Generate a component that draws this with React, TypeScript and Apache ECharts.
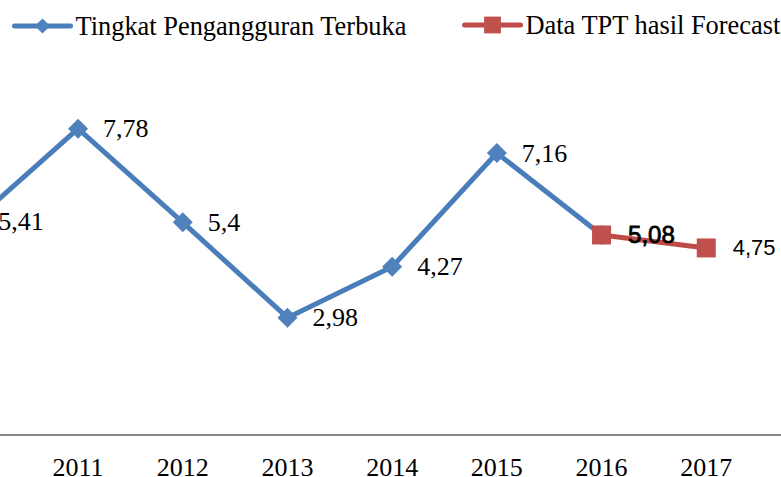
import React, { useEffect, useRef } from "react";
import * as echarts from "echarts";

const years = ["2010", "2011", "2012", "2013", "2014", "2015", "2016", "2017"];
const tptValues: (number | null)[] = [5.41, 7.78, 5.4, 2.98, 4.27, 7.16, 5.08, null];
const forecastValues: (number | null)[] = [null, null, null, null, null, null, 5.08, 4.75];
const seriesNames = ["Tingkat Pengangguran Terbuka", "Data TPT hasil Forecast"];

const SERIF = "'Liberation Serif', 'Times New Roman', serif";
const SANS = "'Liberation Sans', Arial, sans-serif";
const fmt = (p: any) => String(p.value).replace(".", ",");

export default function App() {
  const ref = useRef<HTMLDivElement>(null);
  useEffect(() => {
    if (!ref.current) return;
    const chart = echarts.init(ref.current, null, { renderer: "svg" });
    const blueData = tptValues.map((v, i) =>
      v === null ? "-" : i === 6 ? { value: v, label: { show: false } } : v
    );
    const redData = forecastValues.map((v, i) =>
      v === null
        ? "-"
        : i === 6
        ? { value: v, label: { fontSize: 24, textBorderColor: "#000", textBorderWidth: 0.8 } }
        : v
    );
    const legendText = { fontFamily: SERIF, fontSize: 26.4, color: "#000" };
    chart.setOption({
      animation: false,
      legend: [
        {
          data: [seriesNames[0]],
          left: 12,
          top: 13,
          padding: 0,
          itemWidth: 56,
          itemHeight: 19,
          itemGap: 0,
          lineStyle: { width: 5, cap: "round" },
          textStyle: legendText,
        },
        {
          data: [seriesNames[1]],
          left: 462,
          top: 12,
          padding: 0,
          itemWidth: 56,
          itemHeight: 21,
          itemGap: 0,
          lineStyle: { width: 5, cap: "round" },
          textStyle: legendText,
        },
      ],
      grid: {
        left: -79,
        right: 22.4,
        top: 80.6,
        bottom: 42,
        containLabel: false,
        outerBoundsMode: "none",
      },
      xAxis: {
        type: "category",
        data: years,
        boundaryGap: true,
        axisLine: { show: false },
        axisTick: { show: false },
        axisLabel: { fontFamily: SERIF, fontSize: 26, color: "#000", margin: 19 },
      },
      yAxis: {
        type: "value",
        min: 0,
        max: 9,
        show: false,
        splitLine: { show: false },
      },
      series: [
        {
          name: seriesNames[0],
          type: "line",
          data: blueData,
          symbol: "diamond",
          symbolSize: 20,
          lineStyle: { color: "#4A7EBB", width: 5 },
          itemStyle: { color: "#4F81BD" },
          label: {
            show: true,
            position: "right",
            distance: 15,
            fontFamily: SERIF,
            fontSize: 26,
            color: "#000",
            formatter: fmt,
          },
        },
        {
          name: seriesNames[1],
          type: "line",
          data: redData,
          symbol: "rect",
          symbolSize: 19,
          lineStyle: { color: "#BE4B48", width: 5 },
          itemStyle: { color: "#C0504D" },
          label: {
            show: true,
            position: "right",
            distance: 17,
            fontFamily: SANS,
            fontSize: 22,
            color: "#000",
            formatter: fmt,
          },
        },
      ],
    });
    const y0 = chart.convertToPixel({ yAxisIndex: 0 }, 0) as number;
    chart.setOption({
      graphic: [
        {
          type: "line",
          shape: { x1: 0, y1: y0, x2: 781, y2: y0 },
          style: { stroke: "#898989", lineWidth: 2 },
          z: 0,
        },
      ],
    });
    return () => chart.dispose();
  }, []);
  return (
    <div
      ref={ref}
      style={{ position: "fixed", left: 0, top: 0, width: 781, height: 477, background: "#fff" }}
    />
  );
}
